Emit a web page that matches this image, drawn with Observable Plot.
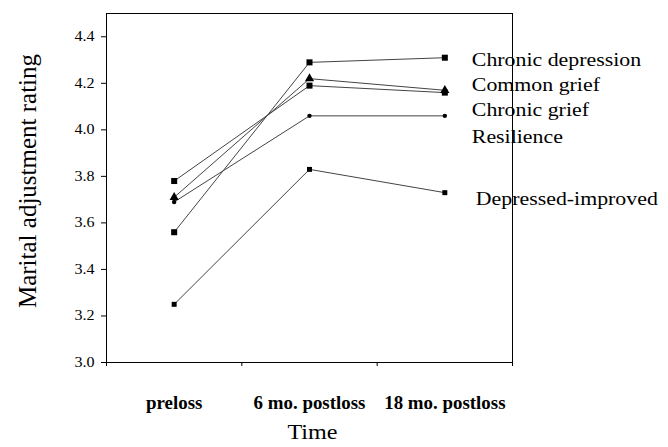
<!DOCTYPE html>
<html><head><meta charset="utf-8">
<script src="https://cdn.jsdelivr.net/npm/d3@7"></script>
<script src="https://cdn.jsdelivr.net/npm/@observablehq/plot@0.6"></script>
<style>
body{margin:0;background:#fff}
#chart svg text{font-family:"Liberation Serif","Times New Roman",serif !important}
</style>
</head><body><div id="chart"></div>
<script>
const times = ["preloss", "6 mo. postloss", "18 mo. postloss"];
const groups = ["Chronic depression", "Common grief", "Chronic grief", "Resilience", "Depressed-improved"];
const chronicDepression = [3.56, 4.29, 4.31];
const commonGrief = [3.71, 4.22, 4.17];
const chronicGrief = [3.78, 4.19, 4.16];
const resilience = [3.69, 4.06, 4.06];
const depressedImproved = [3.25, 3.83, 3.73];
const labelY = [4.30, 4.195, 4.085, 3.97, 3.705];
const yTicks = [3.0, 3.2, 3.4, 3.6, 3.8, 4.0, 4.2, 4.4];

const seriesValues = [chronicDepression, commonGrief, chronicGrief, resilience, depressedImproved];
const symbolStyle = [
  {symbol: "square", r: 3.4},
  {symbol: "triangle", r: 3.4},
  {symbol: "square", r: 3.4},
  {symbol: "circle", r: 2.2},
  {symbol: "square", r: 2.8}
];
const rows = groups.flatMap((g, gi) => seriesValues[gi].map((v, i) => ({group: g, gi, t: i + 0.5, value: v})));
const labels = groups.map((g, i) => ({text: g, y: labelY[i], last: i === groups.length - 1}));

const serif = "Liberation Serif, Times New Roman, serif";
const plot = Plot.plot({
  width: 668, height: 447,
  marginLeft: 106, marginRight: 156, marginTop: 13, marginBottom: 85,
  style: {fontFamily: serif, background: "white", color: "black"},
  x: {domain: [0, 3]},
  y: {domain: [3.0, 4.5]},
  marks: [
    Plot.frame({stroke: "#000", strokeWidth: 1}),
    Plot.axisY({ticks: yTicks, tickFormat: d3.format(".1f"), tickSize: 5, tickPadding: 7, fontSize: 14, label: null, stroke: "#000"}),
    Plot.axisX({ticks: [0, 1, 2, 3], tickSize: 4, tickFormat: () => "", label: null}),
    Plot.axisX({ticks: times.map((_, i) => i + 0.5), tickSize: 0, tickPadding: 34, tickFormat: d => times[Math.floor(d)], fontSize: 18, fontWeight: "bold", label: null, className: "xlabels"}),
    Plot.lineY(rows, {x: "t", y: "value", z: "group", stroke: "#444", strokeWidth: 1}),
    ...symbolStyle.map((s, gi) => Plot.dot(rows.filter(d => d.gi === gi), {x: "t", y: "value", symbol: s.symbol, r: s.r, fill: "#000", stroke: "none"})),
    Plot.text(labels.filter(d => !d.last), {x: 2.5, y: "y", text: "text", textAnchor: "start", dx: 27, fontSize: 19, fill: "#000"}),
    Plot.text(labels.filter(d => d.last), {x: 2.5, y: "y", text: "text", textAnchor: "start", dx: 31, fontSize: 19, fill: "#000"}),
    Plot.text(["Time"], {frameAnchor: "bottom", text: d => d, dy: 76, dx: 3, fontSize: 21, fill: "#000"}),
    Plot.text(["Marital adjustment rating"], {frameAnchor: "left", textAnchor: "middle", text: d => d, rotate: -90, dx: -79, dy: -7, fontSize: 25, fill: "#000", className: "ytitle"})
  ]
});
document.getElementById("chart").appendChild(plot);
// horizontal stretch of the typeface as in the scanned original
plot.querySelectorAll("text").forEach(t => {
  if (t.closest(".ytitle")) return;
  const k = t.closest(".xlabels") ? 1.05 : 1.15;
  const len = t.getComputedTextLength();
  if (len > 0) {
    t.setAttribute("textLength", (len * k).toFixed(1));
    t.setAttribute("lengthAdjust", "spacingAndGlyphs");
  }
});
</script>
</body></html>
